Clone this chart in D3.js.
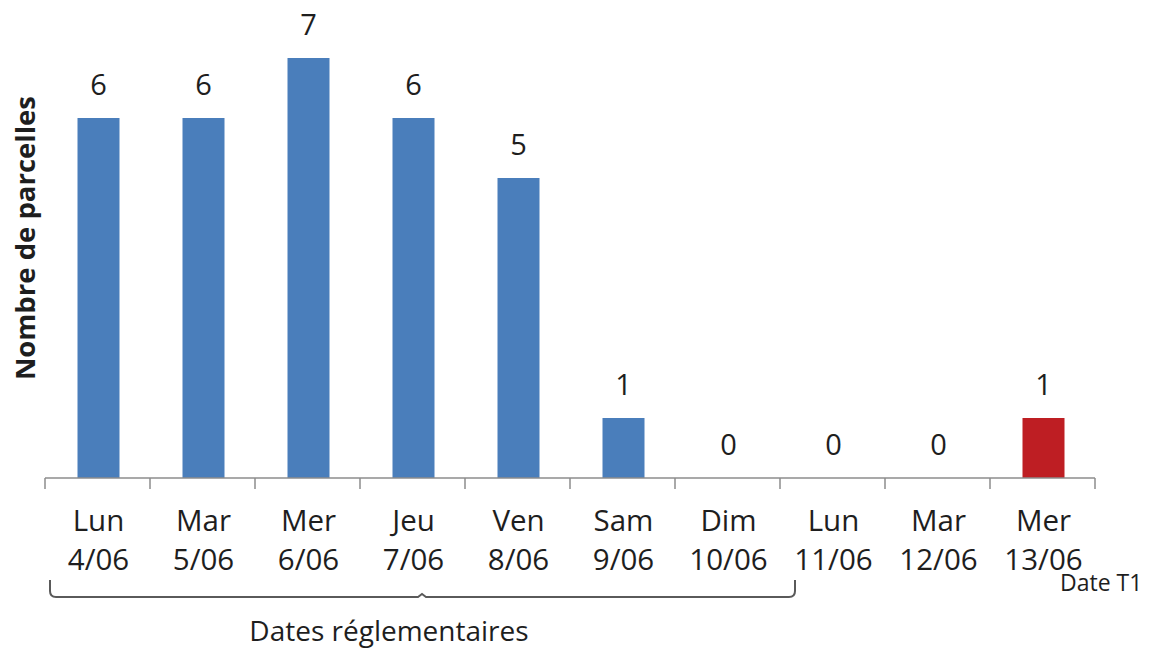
<!DOCTYPE html>
<html>
<head>
<meta charset="utf-8">
<script src="https://cdn.jsdelivr.net/npm/d3@7"></script>
<style>
  body { margin: 0; background: #fff; }
  text { font-family: "Open Sans", sans-serif; fill: #1e1e1e; }
</style>
</head>
<body>
<div id="chart"></div>
<script>
// data
var days = ["Lun", "Mar", "Mer", "Jeu", "Ven", "Sam", "Dim", "Lun", "Mar", "Mer"];
var dates = ["4/06", "5/06", "6/06", "7/06", "8/06", "9/06", "10/06", "11/06", "12/06", "13/06"];
var counts = [6, 6, 7, 6, 5, 1, 0, 0, 0, 1];
var isT1 = [false, false, false, false, false, false, false, false, false, true];

var width = 1150, height = 650;
var svg = d3.select("#chart").append("svg")
  .attr("width", width)
  .attr("height", height);

var keys = dates; // dates are unique
var x = d3.scaleBand()
  .domain(keys)
  .range([45, 1095])
  .paddingInner(0.6)
  .paddingOuter(0.3);

var y = d3.scaleLinear()
  .domain([0, 7])
  .range([478, 58]);

// bars
svg.selectAll("rect.bar")
  .data(counts)
  .enter().append("rect")
  .attr("class", "bar")
  .attr("x", function(d, i){ return x(keys[i]) + 1; })
  .attr("width", x.bandwidth())
  .attr("y", function(d){ return y(d); })
  .attr("height", function(d){ return y(0) - y(d); })
  .attr("fill", function(d, i){ return isT1[i] ? "#be1e23" : "#4a7ebb"; });

// value labels
svg.selectAll("text.val")
  .data(counts)
  .enter().append("text")
  .attr("class", "val")
  .attr("x", function(d, i){ return x(keys[i]) + x.bandwidth() / 2 + 1; })
  .attr("y", function(d){ return y(d) - 23; })
  .attr("text-anchor", "middle")
  .attr("font-size", 29)
  .text(function(d){ return d; });

// x axis line + boundary ticks
var axisG = svg.append("g");
axisG.append("line")
  .attr("x1", x.range()[0]).attr("x2", x.range()[1])
  .attr("y1", y(0)).attr("y2", y(0))
  .attr("stroke", "#8c8c8c").attr("stroke-width", 1.5);

var bounds = keys.map(function(k){ return x(k) + x.bandwidth() / 2 - x.step() / 2; });
bounds.push(x.range()[1]);
axisG.selectAll("line.tick")
  .data(bounds)
  .enter().append("line")
  .attr("class", "tick")
  .attr("x1", function(d){ return d; }).attr("x2", function(d){ return d; })
  .attr("y1", y(0)).attr("y2", y(0) + 11)
  .attr("stroke", "#8c8c8c").attr("stroke-width", 1.5);

// category labels (two lines)
var lab = svg.selectAll("text.cat")
  .data(keys)
  .enter().append("text")
  .attr("class", "cat")
  .attr("text-anchor", "middle")
  .attr("font-size", 29.5)
  .attr("x", function(d){ return x(d) + x.bandwidth() / 2 + 1; });
lab.append("tspan")
  .attr("x", function(d){ return x(d) + x.bandwidth() / 2 + 1; })
  .attr("y", 531)
  .text(function(d, i){ return days[i]; });
lab.append("tspan")
  .attr("x", function(d){ return x(d) + x.bandwidth() / 2 + 1; })
  .attr("y", 570)
  .text(function(d){ return d; });

// y title
svg.append("text")
  .attr("transform", "translate(35,238) rotate(-90)")
  .attr("text-anchor", "middle")
  .attr("font-size", 27.5)
  .attr("font-weight", "bold")
  .attr("fill", "#000")
  .text("Nombre de parcelles");

// bracket under the regulatory dates (Lun 4/06 .. Dim 10/06)
var bx0 = 50, bx1 = 795, bmid = 422, btop = 580, bbot = 597, r = 6;
svg.append("path")
  .attr("d", "M" + bx0 + "," + btop + " L" + bx0 + "," + (bbot - r) +
    " Q" + bx0 + "," + bbot + " " + (bx0 + r) + "," + bbot +
    " L" + (bmid - 4) + "," + bbot + " L" + bmid + "," + (bbot - 3) + " L" + (bmid + 4) + "," + bbot +
    " L" + (bx1 - r) + "," + bbot +
    " Q" + bx1 + "," + bbot + " " + bx1 + "," + (bbot - r) +
    " L" + bx1 + "," + btop)
  .attr("fill", "none")
  .attr("stroke", "#5a5a5a")
  .attr("stroke-width", 2);

svg.append("text")
  .attr("x", 389).attr("y", 641)
  .attr("text-anchor", "middle")
  .attr("font-size", 28)
  .text("Dates réglementaires");

svg.append("text")
  .attr("x", 1060).attr("y", 591)
  .attr("font-size", 23)
  .text("Date T1");
</script>
</body>
</html>
